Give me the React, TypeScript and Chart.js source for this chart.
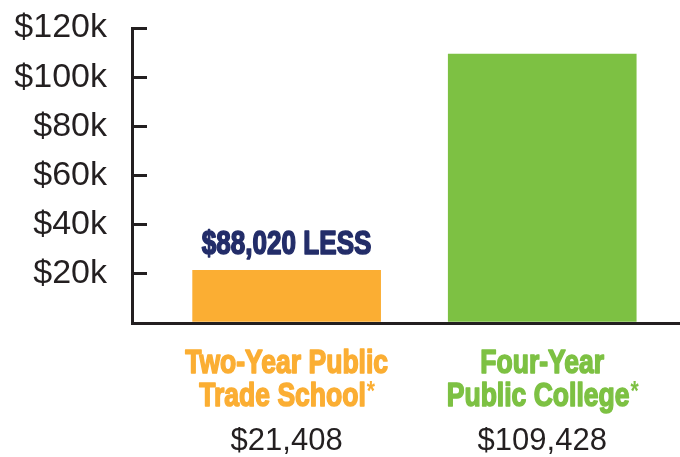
import React, { useEffect, useRef } from 'react';
import { Chart, registerables } from 'chart.js';

Chart.register(...registerables);

// ---- data ----
const categoryTitles: string[][] = [
  ['Two-Year Public', 'Trade School'],
  ['Four-Year', 'Public College'],
];
const footnoteMark = '*';
const costs: number[] = [21408, 109428];
const valueLabels: string[] = ['$21,408', '$109,428'];
const differenceLabel = '$88,020 LESS';
const yTickValues: number[] = [0, 20000, 40000, 60000, 80000, 100000, 120000];
const yTickLabels: string[] = ['', '$20k', '$40k', '$60k', '$80k', '$100k', '$120k'];

// ---- styles ----
const barColors = ['#FBAE33', '#7DC143'];
const inkColor = '#231F20';
const navyColor = '#232D69';
const TITLE_FONT = 'bold 34px "Liberation Sans", Arial, sans-serif';
const STAR_FONT = 'bold 27px "Liberation Sans", Arial, sans-serif';
const VALUE_FONT = '31px "Liberation Sans", Arial, sans-serif';
const ANNOT_FONT = 'bold 33px "Liberation Sans", Arial, sans-serif';
const TITLE_SQUEEZE = 0.78;
const ANNOT_SQUEEZE = 0.79;
const HEAVY_STROKE = 1.6;

function squeezedText(
  ctx: CanvasRenderingContext2D,
  text: string,
  x: number,
  y: number,
  squeeze: number,
  align: CanvasTextAlign,
  heavy: number
) {
  ctx.save();
  ctx.translate(x, y);
  ctx.scale(squeeze, 1);
  ctx.textAlign = align;
  ctx.fillText(text, 0, 0);
  if (heavy > 0) {
    ctx.strokeStyle = ctx.fillStyle as string;
    ctx.lineWidth = heavy;
    ctx.lineJoin = 'round';
    ctx.strokeText(text, 0, 0);
  }
  ctx.restore();
}

const labelsPlugin = {
  id: 'categoryLabels',
  afterDraw(chart: any) {
    const ctx: CanvasRenderingContext2D = chart.ctx;
    const xs = chart.scales.x;
    const ys = chart.scales.y;
    const bottom = chart.chartArea.bottom;
    ctx.save();
    ctx.textBaseline = 'alphabetic';
    costs.forEach((v, i) => {
      const cx = xs.getPixelForValue(i);
      const [line1, line2] = categoryTitles[i];
      ctx.fillStyle = barColors[i];
      ctx.font = TITLE_FONT;
      squeezedText(ctx, line1, cx, bottom + 50, TITLE_SQUEEZE, 'center', HEAVY_STROKE);
      const w = ctx.measureText(line2).width * TITLE_SQUEEZE;
      ctx.font = STAR_FONT;
      const ws = ctx.measureText(footnoteMark).width * TITLE_SQUEEZE;
      const start = cx - (w + ws) / 2;
      ctx.font = TITLE_FONT;
      squeezedText(ctx, line2, start, bottom + 83, TITLE_SQUEEZE, 'left', HEAVY_STROKE);
      ctx.font = STAR_FONT;
      squeezedText(ctx, footnoteMark, start + w + 1, bottom + 77, TITLE_SQUEEZE, 'left', 0);
      ctx.font = VALUE_FONT;
      ctx.fillStyle = inkColor;
      ctx.textAlign = 'center';
      ctx.fillText(valueLabels[i], cx, bottom + 127);
    });
    ctx.font = ANNOT_FONT;
    ctx.fillStyle = navyColor;
    squeezedText(
      ctx,
      differenceLabel,
      xs.getPixelForValue(0),
      ys.getPixelForValue(costs[0]) - 16,
      ANNOT_SQUEEZE,
      'center',
      HEAVY_STROKE
    );
    ctx.restore();
  },
};

export default function App() {
  const ref = useRef<HTMLCanvasElement | null>(null);
  useEffect(() => {
    if (!ref.current) return;
    const chart = new Chart(ref.current, {
      type: 'bar',
      data: {
        datasets: [
          {
            data: costs.map((v, i) => ({ x: i, y: v })),
            backgroundColor: barColors,
            borderWidth: 0,
            barThickness: 188,
          },
        ],
      },
      options: {
        responsive: false,
        animation: false,
        devicePixelRatio: 1,
        layout: { padding: { top: 28, left: 0, right: 0, bottom: 0 } },
        plugins: { legend: { display: false }, tooltip: { enabled: false } },
        scales: {
          x: {
            type: 'linear',
            offset: false,
            min: -0.605,
            max: 1.539,
            ticks: { display: false },
            grid: { display: true, offset: false, drawOnChartArea: false, drawTicks: false },
            border: { display: true, width: 3, color: inkColor },
            afterFit: (s: any) => {
              s.height = 134;
              s.paddingLeft = 0;
              s.paddingRight = 0;
            },
          },
          y: {
            min: 0,
            max: 120000,
            afterBuildTicks: (s: any) => {
              s.ticks = yTickValues.map((value) => ({ value }));
            },
            ticks: {
              autoSkip: false,
              padding: 40,
              color: inkColor,
              font: { family: '"Liberation Sans", Arial, sans-serif', size: 34 },
              callback: (value: any) => {
                const idx = yTickValues.indexOf(Number(value));
                return idx >= 0 ? yTickLabels[idx] : '';
              },
            },
            grid: {
              display: true,
              drawOnChartArea: false,
              drawTicks: true,
              tickLength: -15,
              lineWidth: 3,
              color: inkColor,
            },
            border: { display: true, width: 3, color: inkColor },
            afterFit: (s: any) => {
              s.width = 132;
              s.paddingTop = 0;
              s.paddingBottom = 0;
            },
          },
        },
      },
      plugins: [labelsPlugin],
    });
    return () => chart.destroy();
  }, []);
  return (
    <div style={{ position: 'absolute', left: 0, top: 0, width: 680, height: 457, background: '#fff' }}>
      <canvas ref={ref} width={680} height={457} style={{ display: 'block' }} />
    </div>
  );
}
